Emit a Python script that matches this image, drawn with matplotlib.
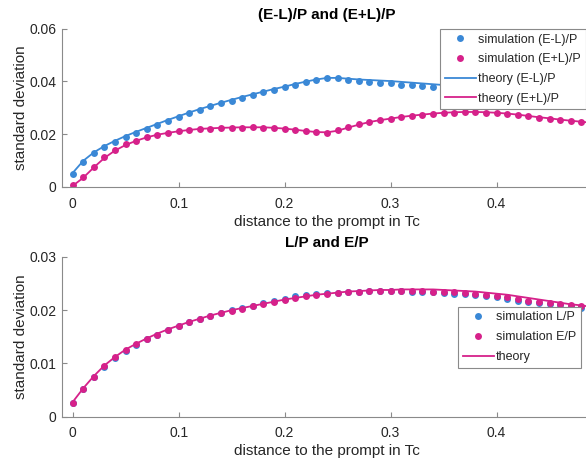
import matplotlib
matplotlib.use('Agg')
import matplotlib.pyplot as plt

plt.rcParams['font.family'] = ['Liberation Sans', 'DejaVu Sans']

# ─── data ───
dist = [0.00, 0.01, 0.02, 0.03, 0.04, 0.05, 0.06, 0.07, 0.08, 0.09,
        0.10, 0.11, 0.12, 0.13, 0.14, 0.15, 0.16, 0.17, 0.18, 0.19,
        0.20, 0.21, 0.22, 0.23, 0.24, 0.25, 0.26, 0.27, 0.28, 0.29,
        0.30, 0.31, 0.32, 0.33, 0.34, 0.35, 0.36, 0.37, 0.38, 0.39,
        0.40, 0.41, 0.42, 0.43, 0.44, 0.45, 0.46, 0.47, 0.48, 0.49]

# top panel: (E-L)/P and (E+L)/P
sim_EmL = [0.0049, 0.0096, 0.0128, 0.0151, 0.0170, 0.0189, 0.0204, 0.0220, 0.0235, 0.0251,
           0.0266, 0.0280, 0.0292, 0.0305, 0.0317, 0.0327, 0.0338, 0.0348, 0.0358, 0.0368,
           0.0378, 0.0388, 0.0397, 0.0406, 0.0413, 0.0411, 0.0406, 0.0402, 0.0398, 0.0395,
           0.0393, 0.0388, 0.0386, 0.0383, 0.0379, 0.0376, 0.0373, 0.0370, 0.0366, 0.0362,
           0.0358, 0.0354, 0.0350, 0.0346, 0.0342, 0.0338, 0.0335, 0.0332, 0.0329, 0.0326]
sim_EpL = [0.0006, 0.0039, 0.0077, 0.0113, 0.0140, 0.0161, 0.0176, 0.0188, 0.0197, 0.0205,
           0.0211, 0.0216, 0.0219, 0.0221, 0.0223, 0.0224, 0.0225, 0.0226, 0.0225, 0.0224,
           0.0221, 0.0217, 0.0212, 0.0207, 0.0205, 0.0214, 0.0227, 0.0238, 0.0247, 0.0254,
           0.0259, 0.0265, 0.0270, 0.0273, 0.0277, 0.0280, 0.0282, 0.0283, 0.0283, 0.0282,
           0.0280, 0.0276, 0.0272, 0.0267, 0.0262, 0.0258, 0.0254, 0.0250, 0.0246, 0.0242]
th_EmL = [0.0053, 0.0099, 0.0131, 0.0155, 0.0175, 0.0193, 0.0209, 0.0224, 0.0239, 0.0254,
          0.0268, 0.0282, 0.0295, 0.0307, 0.0319, 0.0330, 0.0341, 0.0351, 0.0361, 0.0371,
          0.0380, 0.0390, 0.0399, 0.0407, 0.0413, 0.0413, 0.0410, 0.0407, 0.0405, 0.0403,
          0.0401, 0.0398, 0.0395, 0.0392, 0.0389, 0.0386, 0.0383, 0.0380, 0.0377, 0.0374,
          0.0370, 0.0366, 0.0362, 0.0358, 0.0354, 0.0350, 0.0347, 0.0344, 0.0341, 0.0338]
th_EpL = [0.0004, 0.0035, 0.0074, 0.0110, 0.0138, 0.0159, 0.0175, 0.0188, 0.0198, 0.0205,
          0.0211, 0.0216, 0.0220, 0.0222, 0.0224, 0.0225, 0.0226, 0.0226, 0.0226, 0.0224,
          0.0221, 0.0217, 0.0212, 0.0208, 0.0207, 0.0213, 0.0225, 0.0236, 0.0246, 0.0253,
          0.0259, 0.0265, 0.0270, 0.0274, 0.0278, 0.0281, 0.0283, 0.0284, 0.0284, 0.0283,
          0.0281, 0.0278, 0.0274, 0.0269, 0.0264, 0.0260, 0.0255, 0.0251, 0.0247, 0.0243]

# bottom panel: L/P and E/P
sim_L = [0.0026, 0.0052, 0.0075, 0.0093, 0.0110, 0.0123, 0.0134, 0.0145, 0.0154, 0.0163,
         0.0170, 0.0177, 0.0183, 0.0189, 0.0195, 0.0200, 0.0204, 0.0208, 0.0213, 0.0217,
         0.0221, 0.0226, 0.0228, 0.0230, 0.0232, 0.0233, 0.0234, 0.0235, 0.0236, 0.0236,
         0.0236, 0.0236, 0.0235, 0.0235, 0.0234, 0.0232, 0.0231, 0.0230, 0.0229, 0.0227,
         0.0224, 0.0221, 0.0218, 0.0215, 0.0213, 0.0211, 0.0209, 0.0207, 0.0205, 0.0203]
sim_E = [0.0026, 0.0052, 0.0075, 0.0095, 0.0112, 0.0125, 0.0136, 0.0146, 0.0154, 0.0163,
         0.0170, 0.0177, 0.0183, 0.0189, 0.0194, 0.0199, 0.0203, 0.0207, 0.0212, 0.0215,
         0.0219, 0.0223, 0.0226, 0.0228, 0.0231, 0.0232, 0.0234, 0.0235, 0.0236, 0.0236,
         0.0236, 0.0236, 0.0236, 0.0236, 0.0235, 0.0235, 0.0234, 0.0232, 0.0231, 0.0229,
         0.0226, 0.0224, 0.0221, 0.0218, 0.0215, 0.0213, 0.0211, 0.0209, 0.0207, 0.0205]
th_LE = [0.0027, 0.0053, 0.0076, 0.0096, 0.0112, 0.0126, 0.0137, 0.0147, 0.0156, 0.0164,
         0.0171, 0.0178, 0.0184, 0.0190, 0.0195, 0.0200, 0.0204, 0.0208, 0.0212, 0.0216,
         0.0220, 0.0223, 0.0226, 0.0229, 0.0231, 0.0233, 0.0235, 0.0236, 0.0237, 0.0238,
         0.0238, 0.0239, 0.0239, 0.0239, 0.0239, 0.0238, 0.0237, 0.0236, 0.0235, 0.0233,
         0.0231, 0.0229, 0.0226, 0.0223, 0.0220, 0.0217, 0.0214, 0.0211, 0.0209, 0.0206]

xticks = [0, 0.1, 0.2, 0.3, 0.4]
xticklabels = ['0', '0.1', '0.2', '0.3', '0.4']
yticks_top = [0, 0.02, 0.04, 0.06]
yticklabels_top = ['0', '0.02', '0.04', '0.06']
yticks_bot = [0, 0.01, 0.02, 0.03]
yticklabels_bot = ['0', '0.01', '0.02', '0.03']

BLUE = '#3a88d6'
MAGENTA = '#d6218a'
TXT = '#262626'
AX = '#8a8a8a'

fig = plt.figure(figsize=(5.86, 4.59), dpi=100)
W, H = 586, 459


def make_axes(top_px, bottom_px):
    left, right = 62, 592
    return fig.add_axes([left / W, 1 - bottom_px / H,
                         (right - left) / W, (bottom_px - top_px) / H])


def style(ax, yticks, yticklabels, title):
    ax.set_xlim(-0.01, 0.49)
    ax.set_ylim(yticks[0], yticks[-1])
    ax.set_xticks(xticks)
    ax.set_xticklabels(xticklabels)
    ax.set_yticks(yticks)
    ax.set_yticklabels(yticklabels)
    for s in ['top', 'right']:
        ax.spines[s].set_visible(False)
    for s in ['left', 'bottom']:
        ax.spines[s].set_color(AX)
        ax.spines[s].set_linewidth(0.8)
    ax.tick_params(direction='in', length=3.5, width=0.8, color=AX,
                   labelcolor=TXT, labelsize=10)
    ax.tick_params(axis='x', pad=7)
    ax.tick_params(axis='y', pad=4)
    ax.set_xlabel('distance to the prompt in Tc', fontsize=11, color=TXT, labelpad=3)
    ax.set_ylabel('standard deviation', fontsize=11, color=TXT, labelpad=1)
    ax.set_title(title, fontsize=11, fontweight='bold', color='black', pad=7)


mk = dict(linestyle='none', marker='o', markersize=5, markeredgewidth=0)
leg_kw = dict(loc='upper left', bbox_transform=fig.transFigure, fontsize=9,
              frameon=True, fancybox=False, framealpha=1, edgecolor=AX,
              borderpad=0.36, labelspacing=0.62, handlelength=2.5,
              handletextpad=0.2, borderaxespad=0)

# ─── top panel ───
ax1 = make_axes(28.5, 187)
ax1.plot(dist, sim_EmL, color=BLUE, label='simulation (E-L)/P', **mk)
ax1.plot(dist, sim_EpL, color=MAGENTA, label='simulation (E+L)/P', **mk)
ax1.plot(dist, th_EmL, color=BLUE, lw=1.3, label='theory (E-L)/P')
ax1.plot(dist, th_EpL, color=MAGENTA, lw=1.3, label='theory (E+L)/P')
style(ax1, yticks_top, yticklabels_top, '(E-L)/P and (E+L)/P')
leg1 = ax1.legend(bbox_to_anchor=(440 / W, 1 - 29 / H), **leg_kw)
leg1.get_frame().set_linewidth(0.8)

# ─── bottom panel ───
ax2 = make_axes(257, 416.5)
ax2.plot(dist, sim_L, color=BLUE, label='simulation L/P', **mk)
ax2.plot(dist, sim_E, color=MAGENTA, label='simulation E/P', **mk)
ax2.plot(dist, th_LE, color=MAGENTA, lw=1.3, label='theory')
style(ax2, yticks_bot, yticklabels_bot, 'L/P and E/P')
leg2 = ax2.legend(bbox_to_anchor=(458 / W, 1 - 307 / H), **leg_kw)
leg2.get_frame().set_linewidth(0.8)
for t in leg1.get_texts() + leg2.get_texts():
    t.set_color(TXT)

fig.savefig('out.png', dpi=100, facecolor='white')
